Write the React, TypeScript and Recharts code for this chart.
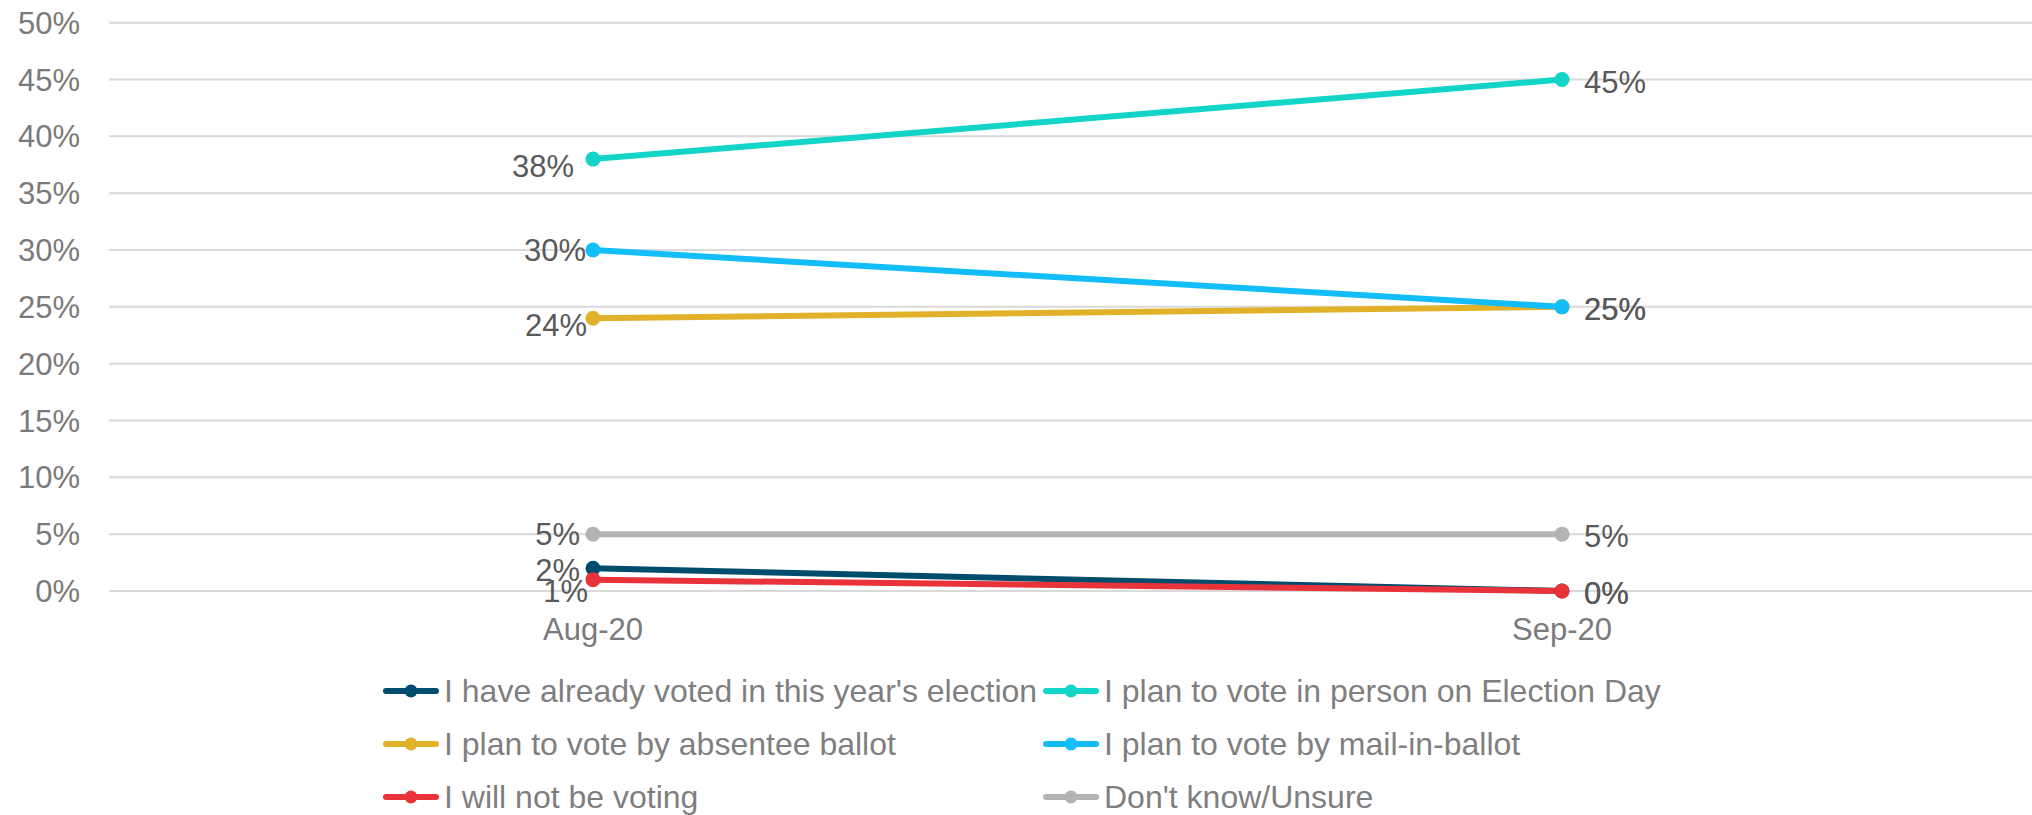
import React from 'react';
import { LineChart, Line, XAxis, YAxis, CartesianGrid } from 'recharts';

const categories = ['Aug-20', 'Sep-20'];
const alreadyVoted = [2, 0];
const inPerson = [38, 45];
const absentee = [24, 25];
const mailIn = [30, 25];
const notVoting = [1, 0];
const unsure = [5, 5];
const yTicks = [0, 5, 10, 15, 20, 25, 30, 35, 40, 45, 50];

const series = [
  { key: 'alreadyVoted', name: "I have already voted in this year's election", values: alreadyVoted, color: '#004C6D', ldx: -13, ldy: 2 },
  { key: 'inPerson', name: 'I plan to vote in person on Election Day', values: inPerson, color: '#12D5C8', ldx: -19, ldy: 7 },
  { key: 'absentee', name: 'I plan to vote by absentee ballot', values: absentee, color: '#E2B12A', ldx: -6, ldy: 7 },
  { key: 'mailIn', name: 'I plan to vote by mail-in-ballot', values: mailIn, color: '#13BDF8', ldx: -7, ldy: 0 },
  { key: 'notVoting', name: 'I will not be voting', values: notVoting, color: '#E8333B', ldx: -5, ldy: 11 },
  { key: 'unsure', name: "Don't know/Unsure", values: unsure, color: '#B3B3B3', ldx: -13, ldy: 0 },
];

const data = categories.map((c, i) => {
  const row: any = { month: c };
  series.forEach((s) => {
    row[s.key] = s.values[i];
  });
  return row;
});

const FONT = '"Liberation Sans", Arial, sans-serif';

const makeLabel = (s: any) => (props: any) => {
  const { x, y, value, index } = props;
  const isLeft = index === 0;
  const dx = isLeft ? s.ldx : 22;
  const dy = isLeft ? s.ldy : 2;
  return (
    <text
      key={`${s.key}-${index}`}
      x={x + dx}
      y={y + dy}
      dy="0.355em"
      textAnchor={isLeft ? 'end' : 'start'}
      fill="#595959"
      fontSize={31}
      fontFamily={FONT}
    >
      {`${value}%`}
    </text>
  );
};

const LegendIcon = ({ color }: { color: string }) => (
  <svg width={56} height={16} style={{ display: 'block', flex: 'none' }}>
    <line x1={3} y1={8} x2={53} y2={8} stroke={color} strokeWidth={6} strokeLinecap="round" />
    <circle cx={28} cy={8} r={6.5} fill={color} />
  </svg>
);

export default function App() {
  return (
    <div
      style={{
        position: 'absolute',
        left: 0,
        top: 0,
        width: 2032,
        height: 815,
        overflow: 'hidden',
        background: '#ffffff',
        fontFamily: FONT,
      }}
    >
      <LineChart
        width={2032}
        height={815}
        data={data}
        margin={{ top: 22.7, right: 0, left: 0, bottom: 164 }}
      >
        <CartesianGrid vertical={false} stroke="#D9D9D9" strokeWidth={2} />
        <XAxis
          dataKey="month"
          type="category"
          scale="point"
          padding={{ left: 484, right: 470 }}
          axisLine={false}
          tickLine={false}
          tickSize={0}
          tickMargin={27}
          height={60}
          tick={{ fill: '#7A7A7A', fontSize: 31, fontFamily: FONT }}
          interval={0}
        />
        <YAxis
          domain={[0, 50]}
          ticks={yTicks}
          interval={0}
          axisLine={false}
          tickLine={false}
          tickSize={0}
          tickMargin={29}
          width={109}
          tickFormatter={(v: number) => `${v}%`}
          tick={{ fill: '#7A7A7A', fontSize: 31, fontFamily: FONT }}
        />
        {series.map((s) => (
          <Line
            key={s.key}
            dataKey={s.key}
            name={s.name}
            type="linear"
            stroke={s.color}
            strokeWidth={6}
            dot={{ r: 7.5, fill: s.color, stroke: s.color, strokeWidth: 0 }}
            activeDot={false}
            isAnimationActive={false}
            label={makeLabel(s)}
          />
        ))}
      </LineChart>
      <div
        style={{
          position: 'absolute',
          left: 383,
          top: 664,
          display: 'grid',
          gridTemplateColumns: '660px auto',
          gridAutoRows: '53.3px',
        }}
      >
        {series.map((s) => (
          <div key={s.key} style={{ display: 'flex', alignItems: 'center', height: 53.3 }}>
            <LegendIcon color={s.color} />
            <span
              style={{
                marginLeft: 5,
                fontSize: 32,
                color: '#7F7F7F',
                whiteSpace: 'nowrap',
                lineHeight: 1,
              }}
            >
              {s.name}
            </span>
          </div>
        ))}
      </div>
    </div>
  );
}
